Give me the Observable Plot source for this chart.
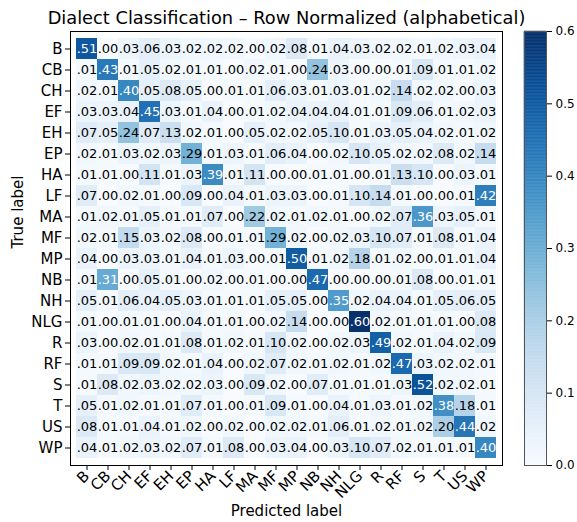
<!DOCTYPE html>
<html><head><meta charset="utf-8">
<script src="https://cdn.jsdelivr.net/npm/d3@7"></script>
<script src="https://cdn.jsdelivr.net/npm/@observablehq/plot@0.6"></script>
<style>
body{margin:0;background:#fff;}
#wrap{position:relative;width:577px;height:522px;font-family:"DejaVu Sans",sans-serif;}
#wrap svg{position:absolute;top:0;overflow:visible;}
</style></head><body><div id="wrap"></div>
<script>
const title = "Dialect Classification – Row Normalized (alphabetical)";
const xLabel = "Predicted label";
const yLabel = "True label";
const labels = ["B","CB","CH","EF","EH","EP","HA","LF","MA","MF","MP","NB","NH","NLG","R","RF","S","T","US","WP"];
const values = [
[.51,.00,.03,.06,.03,.02,.02,.02,.00,.02,.08,.01,.04,.03,.02,.02,.01,.02,.03,.04],
[.01,.43,.01,.05,.02,.01,.01,.00,.02,.01,.00,.24,.03,.00,.00,.01,.09,.01,.01,.02],
[.02,.01,.40,.05,.08,.05,.00,.01,.01,.06,.03,.01,.03,.01,.02,.14,.02,.02,.00,.03],
[.03,.03,.04,.45,.03,.01,.04,.00,.01,.02,.04,.04,.04,.01,.01,.09,.06,.01,.02,.03],
[.07,.05,.24,.07,.13,.02,.01,.00,.05,.02,.02,.05,.10,.01,.03,.05,.04,.02,.01,.02],
[.02,.01,.03,.02,.03,.29,.01,.03,.01,.06,.04,.00,.02,.10,.05,.02,.02,.08,.02,.14],
[.01,.01,.00,.11,.01,.03,.39,.01,.11,.00,.00,.01,.01,.00,.01,.13,.10,.00,.03,.01],
[.07,.00,.02,.01,.00,.09,.00,.04,.01,.03,.03,.00,.01,.10,.14,.01,.00,.00,.01,.42],
[.01,.02,.01,.05,.01,.01,.07,.00,.22,.02,.01,.02,.01,.00,.02,.07,.36,.03,.05,.01],
[.02,.01,.15,.03,.02,.08,.00,.01,.01,.29,.02,.00,.02,.03,.10,.07,.01,.08,.01,.04],
[.04,.00,.03,.03,.01,.04,.01,.03,.00,.01,.50,.01,.02,.18,.01,.02,.00,.01,.01,.04],
[.01,.31,.00,.05,.01,.00,.02,.00,.01,.00,.00,.47,.00,.00,.00,.01,.08,.00,.01,.01],
[.05,.01,.06,.04,.05,.03,.01,.01,.01,.05,.05,.00,.35,.02,.04,.04,.01,.05,.06,.05],
[.01,.00,.01,.01,.00,.04,.01,.01,.00,.02,.14,.00,.00,.60,.02,.01,.01,.01,.00,.08],
[.03,.00,.02,.01,.01,.08,.01,.02,.01,.10,.02,.00,.02,.03,.49,.02,.01,.04,.02,.09],
[.01,.01,.09,.09,.02,.01,.04,.00,.02,.07,.02,.01,.02,.01,.02,.47,.03,.02,.02,.01],
[.01,.08,.02,.03,.02,.02,.03,.00,.09,.02,.00,.07,.01,.01,.01,.03,.52,.02,.02,.01],
[.05,.01,.02,.01,.01,.07,.01,.00,.01,.09,.01,.00,.04,.01,.03,.01,.02,.38,.18,.01],
[.08,.01,.01,.04,.01,.02,.00,.02,.00,.02,.02,.01,.06,.01,.02,.01,.02,.20,.44,.02],
[.04,.01,.02,.03,.02,.07,.01,.08,.00,.03,.04,.00,.03,.10,.07,.02,.01,.01,.01,.40]
];
const colorTicks = [0,0.1,0.2,0.3,0.4,0.5,0.6];
const vmax = 0.6;

const cells = [];
values.forEach((row, i) => row.forEach((v, j) => cells.push({t: labels[i], p: labels[j], v})));
const fmt = v => d3.format(".2f")(v).replace(/^0/, "");

const FONT = "DejaVu Sans, sans-serif";
const main = Plot.plot({
  width: 577, height: 522,
  marginLeft: 70, marginRight: 75, marginTop: 31, marginBottom: 57,
  style: {fontFamily: FONT, fontSize: "15px", color: "#000", background: "transparent"},
  x: {domain: labels, padding: 0, axis: null},
  y: {domain: labels, padding: 0, axis: null},
  color: {type: "linear", scheme: "blues", domain: [0, vmax]},
  marks: [
    Plot.cell(cells, {x: "p", y: "t", fill: "v", inset: 0}),
    Plot.text(cells, {x: "p", y: "t", text: d => fmt(d.v), fill: d => d.v > vmax / 2 ? "white" : "black", fontSize: 13}),
    Plot.frame({stroke: "black", strokeWidth: 1}),
    Plot.axisX({anchor: "bottom", tickRotate: -45, tickSize: 5, tickPadding: 3, fontSize: 15, label: null}),
    Plot.axisY({anchor: "left", tickSize: 5, tickPadding: 3, fontSize: 15, label: null}),
    Plot.text([title], {frameAnchor: "top", dy: -13, lineAnchor: "middle", fontSize: 17.8, fill: "black"}),
    Plot.text([xLabel], {frameAnchor: "bottom", dy: 46, lineAnchor: "middle", fontSize: 15, fill: "black"}),
    Plot.text([yLabel], {frameAnchor: "left", dx: -52, rotate: -90, lineAnchor: "middle", fontSize: 15, fill: "black"})
  ]
});

const bands = d3.range(0, 300).map(i => ({y1: i * vmax / 300, y2: (i + 1) * vmax / 300}));
const cbar = Plot.plot({
  width: 77, height: 522,
  marginLeft: 24, marginRight: 31, marginTop: 31, marginBottom: 57,
  style: {fontFamily: FONT, fontSize: "12px", color: "#000", background: "transparent"},
  y: {domain: [0, vmax], axis: null},
  color: {type: "linear", scheme: "blues", domain: [0, vmax]},
  marks: [
    Plot.rect(bands, {y1: "y1", y2: "y2", fill: d => (d.y1 + d.y2) / 2, stroke: d => (d.y1 + d.y2) / 2, strokeWidth: 0.5}),
    Plot.frame({stroke: "#555", strokeWidth: 1}),
    Plot.axisY({anchor: "right", ticks: colorTicks, tickFormat: d3.format(".1f"), tickSize: 5, tickPadding: 4, fontSize: 12, label: null})
  ]
});
cbar.style.left = "500px";
const wrap = document.getElementById("wrap");
wrap.append(main, cbar);
</script></body></html>
